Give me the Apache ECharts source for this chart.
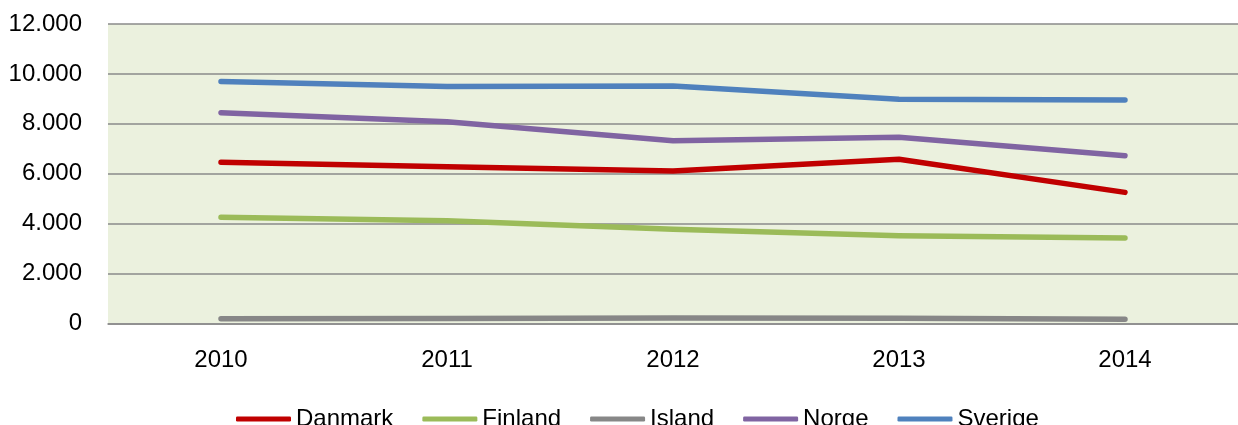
<!DOCTYPE html>
<html>
<head>
<meta charset="utf-8">
<script src="https://cdn.jsdelivr.net/npm/echarts@6/dist/echarts.min.js"></script>
<style>
html,body{margin:0;padding:0;background:#fff;}
#chart{width:1238px;height:425px;}
</style>
</head>
<body>
<div id="chart"></div>
<script>
const years = ['2010', '2011', '2012', '2013', '2014'];
const seriesNames = ['Danmark', 'Finland', 'Island', 'Norge', 'Sverige'];
const danmark = [6455, 6280, 6105, 6575, 5250];
const finland = [4250, 4115, 3770, 3515, 3420];
const island = [180, 195, 215, 200, 165];
const norge = [8445, 8085, 7320, 7460, 6720];
const sverige = [9690, 9490, 9515, 8980, 8955];
const yTicks = [0, 2000, 4000, 6000, 8000, 10000, 12000];

const colors = ['#C00000', '#9BBB59', '#878787', '#8064A2', '#4F81BD'];
const values = [danmark, finland, island, norge, sverige];
const FONT = 'Liberation Sans';

function fmt(v) {
  return String(v).replace(/\B(?=(\d{3})+(?!\d))/g, '.');
}

const chart = echarts.init(document.getElementById('chart'), null, {renderer: 'canvas'});
chart.setOption({
  animation: false,
  color: colors,
  textStyle: {fontFamily: FONT},
  grid: {
    left: 108, right: -15, top: 24, bottom: 101.7,
    show: true, backgroundColor: '#EBF1DE', borderWidth: 0
  },
  legend: {
    left: 231, top: 402,
    itemWidth: 55, itemHeight: 5, itemGap: 29,
    icon: 'roundRect',
    textStyle: {fontFamily: FONT, fontSize: 24, color: '#000'},
    data: seriesNames
  },
  xAxis: {
    type: 'category',
    data: years,
    boundaryGap: true,
    axisLine: {show: true, lineStyle: {color: '#8A8A8A', width: 1.5}},
    axisTick: {show: false},
    axisLabel: {fontFamily: FONT, fontSize: 24, color: '#000', margin: 25}
  },
  yAxis: {
    type: 'value',
    min: yTicks[0], max: yTicks[yTicks.length - 1], interval: 2000,
    axisLine: {show: false},
    axisTick: {show: false},
    splitLine: {show: true, lineStyle: {color: '#8A8A8A', width: 1.5}},
    axisLabel: {fontFamily: FONT, fontSize: 24, color: '#000', margin: 26, formatter: fmt}
  },
  series: seriesNames.map((name, i) => ({
    name: name,
    type: 'line',
    data: values[i],
    symbol: 'none',
    smooth: false,
    lineStyle: {width: 5.5, color: colors[i], cap: 'round', join: 'round'},
    itemStyle: {color: colors[i]}
  }))
});
</script>
</body>
</html>
